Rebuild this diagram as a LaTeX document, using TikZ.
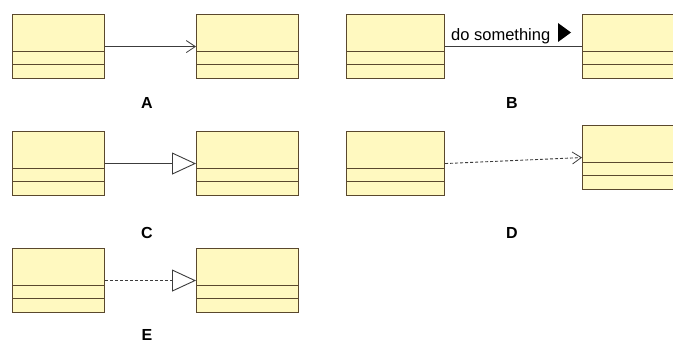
\documentclass[tikz,border=0pt]{standalone}
\usepackage{fontspec}
\setmainfont{Liberation Sans}
\usetikzlibrary{arrows.meta}
\definecolor{boxfill}{RGB}{255,249,192}
\definecolor{boxedge}{RGB}{90,72,45}
\definecolor{linkcol}{RGB}{60,60,60}
\tikzset{
  umlclass/.style={draw=boxedge, fill=boxfill, line width=1.1pt, inner sep=0pt,
    minimum height=64pt, anchor=north west},
  compline/.style={draw=boxedge, line width=1.1pt},
  link/.style={draw=linkcol, line width=0.9pt},
  dashlink/.style={link, dash pattern=on 3pt off 2pt},
  openhead/.style={-{Straight Barb[length=9pt,width=12pt,line width=0.8pt]}},
  genhead/.style={-{Triangle[open,length=24pt,width=22pt,line width=0.9pt,fill=white]}},
  caption/.style={font=\bfseries\fontsize{16}{18}\selectfont, text=black},
}
\newcommand\umlbox[4]{%
  \node[umlclass, minimum width=#4pt] (#1) at (#2,#3) {};
  \draw[compline] ([yshift=-37.5pt]#1.north west) -- ([yshift=-37.5pt]#1.north east);
  \draw[compline] ([yshift=-50.5pt]#1.north west) -- ([yshift=-50.5pt]#1.north east);
}
\begin{document}
\begin{tikzpicture}[x=1pt,y=-1pt]
\useasboundingbox (0,0) rectangle (673,345);
\clip (0,0) rectangle (673,345);
\fill[white] (0,0) rectangle (673,345);
% A
\umlbox{a1}{12}{14}{92}
\umlbox{a2}{196}{14}{102}
\draw[link, openhead] (a1.east) -- (a2.west);
\node[caption] (la) at (147,103) {A};
% B
\umlbox{b1}{346}{14}{98}
\umlbox{b2}{582}{14}{102}
\draw[link] (b1.east) -- (b2.west);
\node[anchor=base west, inner sep=0pt, font=\fontsize{16.5}{18}\selectfont] (bl) at (451,41) {do something};
\fill[black] (558,23) -- (571,32.5) -- (558,42) -- cycle;
\node[caption] (lb) at (512,103) {B};
% C
\umlbox{c1}{12}{131}{92}
\umlbox{c2}{196}{131}{102}
\draw[link, genhead] (c1.east) -- (c2.west);
\node[caption] (lc) at (147,233) {C};
% D
\umlbox{d1}{346}{131}{98}
\umlbox{d2}{582}{125}{102}
\draw[dashlink, openhead] (d1.east) -- (d2.west);
\node[caption] (ld) at (512,233) {D};
% E
\umlbox{e1}{12}{248}{92}
\umlbox{e2}{196}{248}{102}
\draw[dashlink, genhead] (e1.east) -- (e2.west);
\node[caption, anchor=south] (le) at (147,344.5) {E};
\end{tikzpicture}
\end{document}
